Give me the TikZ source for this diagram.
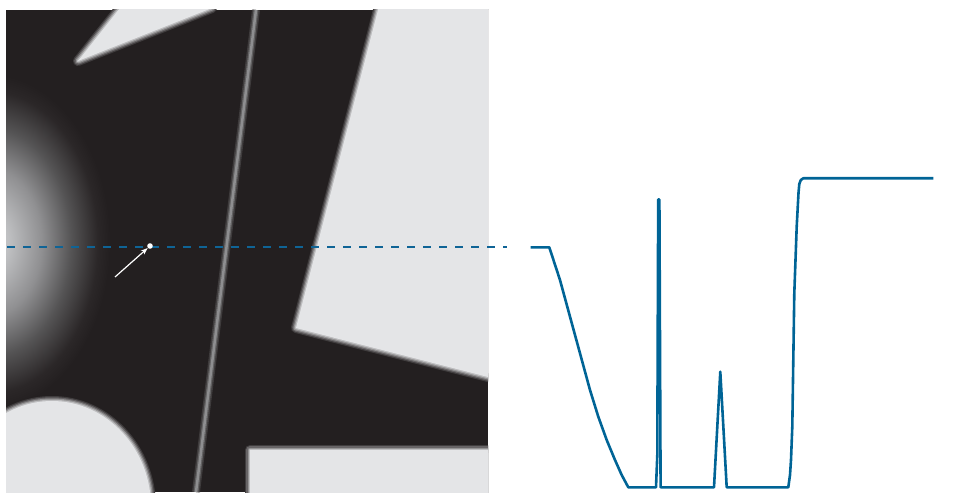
\documentclass[tikz,border=0pt]{standalone}
\usetikzlibrary{arrows.meta}
\definecolor{imgdark}{HTML}{231F20}
\definecolor{imglight}{HTML}{E4E5E7}
\definecolor{linegray}{HTML}{8E8E90}
\definecolor{profblue}{RGB}{0,100,150}
\definecolor{dashblue}{RGB}{15,100,150}
\colorlet{edgeA}{imglight!15!imgdark}
\colorlet{edgeB}{imglight!35!imgdark}
\colorlet{edgeC}{imglight!58!imgdark}
\colorlet{edgeD}{imglight!80!imgdark}
\colorlet{grayA}{linegray!25!imgdark}
\colorlet{grayB}{linegray!60!imgdark}
\definecolor{glowA}{HTML}{CDCED0}
\definecolor{glowB}{HTML}{C0C1C3}
\definecolor{glowC}{HTML}{909092}
\definecolor{glowD}{HTML}{555455}
\definecolor{glowE}{HTML}{2B2728}
\pgfdeclareradialshading{glowshade}{\pgfpoint{0bp}{0bp}}{color(0bp)=(glowA); color(4bp)=(glowB); color(11bp)=(glowC); color(17bp)=(glowD); color(22.5bp)=(glowE); color(25bp)=(imgdark); color(50bp)=(imgdark)}
\newcommand\blurshape[1]{%
  \draw[line width=10, draw=edgeA, line join=round] #1;
  \draw[line width=7.5, draw=edgeB, line join=round] #1;
  \draw[line width=5, draw=edgeC, line join=round] #1;
  \draw[line width=2.5, draw=edgeD, line join=round] #1;
  \fill[imglight] #1;}
\tikzset{
  profile/.style={draw=profblue, line width=2.6, line join=round},
  scanline/.style={draw=dashblue, line width=1.3, dash pattern=on 8 off 8},
  pointer/.style={draw=white, line width=1.2, -{Stealth[length=7, width=5]}},
  probe/.style={circle, fill=white, inner sep=0pt, minimum size=5.6}
}
\begin{document}
\begin{tikzpicture}[x=1pt, y=-1pt]
\useasboundingbox (0,0) rectangle (962,500);
% ---------- image ----------
\begin{scope}
  \clip (6,10) rectangle (488,492);
  \fill[imgdark] (6,10) rectangle (488,492);
  \shade[shading=glowshade] (-12,242) ellipse (122 and 168);
  \blurshape{(78,61) -- (120,8) -- (212,8) -- cycle}
  \blurshape{(379,6) -- (492,6) -- (492,378) -- (296,328) -- cycle}
  \blurshape{(250,450) -- (492,450) -- (492,496) -- (250,496) -- cycle}
  \blurshape{(52,507) ellipse (99 and 106)}
  \draw[line width=8, grayA] (256,10) -- (196,492);
  \draw[line width=5, grayB] (256,10) -- (196,492);
  \draw[line width=2.5, linegray] (256,10) -- (196,492);
\end{scope}
% ---------- scan line ----------
\coordinate (scanL) at (7,247);
\coordinate (scanR) at (507,247);
\draw[scanline] (scanL) -- (scanR);
\node[probe] (dot) at (150,246) {};
\coordinate (arrstart) at (115,277);
\draw[pointer] (arrstart) -- (dot);
% ---------- profile ----------
\draw[profile] (530.7,247.3) -- (549.3,247.3) -- (560,280) -- (570,316.7) -- (580,353.3)
  -- (590,390) -- (598.3,416.7) -- (606.7,440) -- (615,460) -- (621.7,475) -- (628.3,487.3)
  -- (656,487.3) -- (657.3,455) -- (658.2,199.5) -- (659.4,199.5) -- (660.6,487.3)
  -- (714,487.3) -- (720.3,371.7) -- (726.7,487.3)
  -- (788.3,487.3) -- (790,475) -- (791,460) -- (792.3,426.7) -- (794.3,293.3)
  -- (796.7,226.7) -- (798.5,193) -- (799.3,184) -- (800.8,180) -- (803.3,178.3)
  -- (933.3,178.3);
\end{tikzpicture}
\end{document}
